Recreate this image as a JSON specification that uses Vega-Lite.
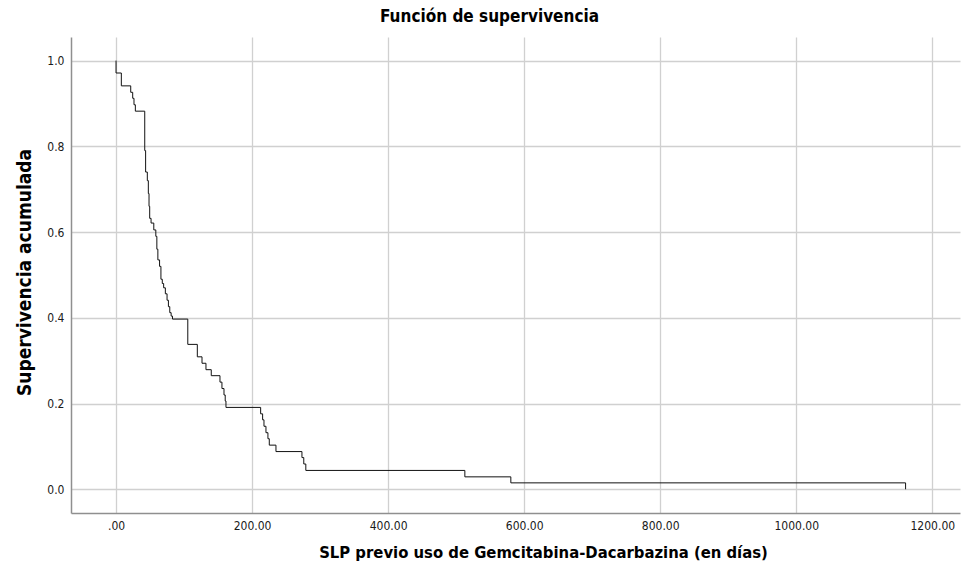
{
  "$schema": "https://vega.github.io/schema/vega-lite/v6.json",
  "width": 889,
  "height": 476,
  "autosize": {"type": "none"},
  "padding": {"left": 71, "top": 37, "right": 6, "bottom": 56},
  "background": "white",
  "config": {
    "view": {"stroke": null},
    "font": "DejaVu Sans Condensed, Liberation Sans Narrow, sans-serif"
  },
  "title": {
    "text": "Función de supervivencia",
    "font": "DejaVu Sans Condensed, Liberation Sans Narrow, sans-serif",
    "fontSize": 17,
    "fontWeight": "bold",
    "color": "#000000",
    "anchor": "middle",
    "frame": "group",
    "dx": -26,
    "offset": 11
  },
  "data": {
    "values": [
      {"i": 0, "t": 0, "s": 1.0},
      {"i": 1, "t": 0, "s": 0.971},
      {"i": 2, "t": 7.8, "s": 0.941},
      {"i": 3, "t": 21.6, "s": 0.926},
      {"i": 4, "t": 24.5, "s": 0.912},
      {"i": 5, "t": 26.4, "s": 0.897},
      {"i": 6, "t": 28.4, "s": 0.882},
      {"i": 7, "t": 42.2, "s": 0.79},
      {"i": 8, "t": 43.5, "s": 0.74},
      {"i": 9, "t": 46, "s": 0.72},
      {"i": 10, "t": 47.5, "s": 0.69},
      {"i": 11, "t": 48.5, "s": 0.66},
      {"i": 12, "t": 49.5, "s": 0.632},
      {"i": 13, "t": 51.5, "s": 0.621},
      {"i": 14, "t": 55.5, "s": 0.605},
      {"i": 15, "t": 58.5, "s": 0.59},
      {"i": 16, "t": 60, "s": 0.56},
      {"i": 17, "t": 61.5, "s": 0.535},
      {"i": 18, "t": 64, "s": 0.52},
      {"i": 19, "t": 66, "s": 0.49},
      {"i": 20, "t": 68, "s": 0.48},
      {"i": 21, "t": 70, "s": 0.47},
      {"i": 22, "t": 72.5, "s": 0.456},
      {"i": 23, "t": 75, "s": 0.441},
      {"i": 24, "t": 77, "s": 0.426},
      {"i": 25, "t": 79, "s": 0.412},
      {"i": 26, "t": 81, "s": 0.404},
      {"i": 27, "t": 83, "s": 0.397},
      {"i": 28, "t": 105.5, "s": 0.338},
      {"i": 29, "t": 119.5, "s": 0.309},
      {"i": 30, "t": 126.4, "s": 0.294},
      {"i": 31, "t": 132.2, "s": 0.279},
      {"i": 32, "t": 140, "s": 0.265},
      {"i": 33, "t": 152.8, "s": 0.25},
      {"i": 34, "t": 155.7, "s": 0.235},
      {"i": 35, "t": 158.7, "s": 0.22},
      {"i": 36, "t": 160.5, "s": 0.206},
      {"i": 37, "t": 161.6, "s": 0.191},
      {"i": 38, "t": 212.6, "s": 0.176},
      {"i": 39, "t": 215.5, "s": 0.162},
      {"i": 40, "t": 217.5, "s": 0.147},
      {"i": 41, "t": 220.4, "s": 0.132},
      {"i": 42, "t": 223.3, "s": 0.118},
      {"i": 43, "t": 225.3, "s": 0.103},
      {"i": 44, "t": 235.1, "s": 0.088},
      {"i": 45, "t": 273.3, "s": 0.074},
      {"i": 46, "t": 276, "s": 0.059},
      {"i": 47, "t": 279, "s": 0.044},
      {"i": 48, "t": 512.8, "s": 0.029},
      {"i": 49, "t": 580.4, "s": 0.015},
      {"i": 50, "t": 1160.7, "s": 0.0}
    ]
  },
  "mark": {"type": "line", "interpolate": "step-after", "color": "#111111", "strokeWidth": 1},
  "encoding": {
    "x": {
      "field": "t",
      "type": "quantitative",
      "scale": {"domain": [-66.2, 1240.7], "nice": false, "zero": false},
      "axis": {
        "title": "SLP previo uso de Gemcitabina-Dacarbazina (en días)",
        "values": [0, 200, 400, 600, 800, 1000, 1200],
        "labelExpr": "datum.value == 0 ? '.00' : format(datum.value, '.2f')",
        "grid": true,
        "gridColor": "#d0d0d0",
        "gridWidth": 1.3,
        "ticks": false,
        "domainColor": "#8f8f8f",
        "domainWidth": 1.5,
        "labelFontSize": 12,
        "labelColor": "#1a1a1a",
        "labelPadding": 7,
        "labelFlush": false,
        "titleFontSize": 16.5,
        "titleFontWeight": "bold",
        "titleColor": "#000000",
        "titlePadding": 13,
        "titleX": 472
      }
    },
    "y": {
      "field": "s",
      "type": "quantitative",
      "scale": {"domain": [-0.0553, 1.055], "nice": false, "zero": false},
      "axis": {
        "title": "Supervivencia acumulada",
        "values": [0, 0.2, 0.4, 0.6, 0.8, 1.0],
        "format": ".1f",
        "grid": true,
        "gridColor": "#d0d0d0",
        "gridWidth": 1.3,
        "ticks": false,
        "domainColor": "#8f8f8f",
        "domainWidth": 1.5,
        "labelFontSize": 12,
        "labelColor": "#1a1a1a",
        "labelPadding": 7,
        "labelFlush": false,
        "titleFontSize": 19,
        "titleFontWeight": "bold",
        "titleColor": "#000000",
        "titlePadding": 12,
        "titleY": 235
      }
    },
    "order": {"field": "i", "type": "quantitative"}
  }
}
